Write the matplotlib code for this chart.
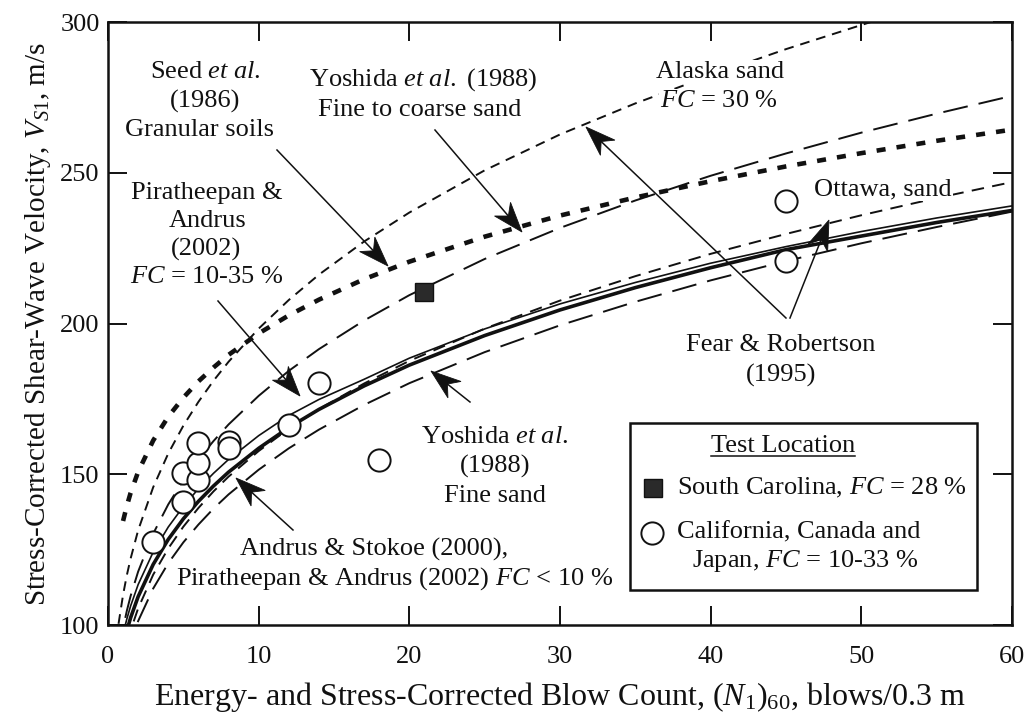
import numpy as np
import matplotlib
matplotlib.use("Agg")
import matplotlib.pyplot as plt
from matplotlib.patches import Rectangle, Polygon
from matplotlib.lines import Line2D

plt.rcParams['font.family'] = ['Liberation Serif', 'DejaVu Serif']
plt.rcParams['mathtext.fontset'] = 'custom'
plt.rcParams['mathtext.rm'] = 'Liberation Serif'
plt.rcParams['mathtext.it'] = 'Liberation Serif:italic'
plt.rcParams['mathtext.bf'] = 'Liberation Serif:bold'
plt.rcParams['lines.scale_dashes'] = False

# ---- relationship curves, (N1)60 vs Vs1 (m/s) ----
n_curve = [0.7, 1, 1.25, 1.5, 2, 3, 4, 5, 6, 7, 8, 10, 12, 14, 17, 20,
           25, 30, 35, 40, 45, 50, 55, 60]
vs_alaska = [100.4, 110.0, 116.5, 122.0, 131.4, 145.7, 156.9, 166.1, 174.0,
             181.0, 187.3, 198.3, 207.8, 216.2, 227.2, 236.8, 250.8, 262.7,
             273.0, 282.3, 291.0, 299.0, 306.9, 313.5]
vs_seed = [np.nan, 134.5, 139.5, 143.8, 150.8, 161.2, 169.1, 175.4, 180.8,
           185.4, 189.6, 196.7, 202.7, 207.9, 214.7, 220.5, 228.8, 235.8,
           241.8, 247.2, 252.1, 256.5, 260.6, 264.3]
vs_yoshida_fc = [90.6, 99.0, 104.7, 109.6, 117.7, 130.3, 140.0, 148.0, 154.9,
                 161.0, 166.5, 176.0, 184.3, 191.5, 201.0, 209.4, 221.4, 231.7,
                 240.8, 249.0, 256.4, 263.3, 269.6, 275.5]
vs_ottawa = [81.1, 88.7, 93.8, 98.2, 105.5, 116.7, 125.4, 132.6, 138.8, 144.3,
             149.2, 157.7, 165.1, 171.6, 180.1, 187.6, 198.3, 207.6, 215.7,
             223.1, 229.7, 235.9, 241.6, 246.9]
vs_pa_fines = [89.5, 97.0, 102.0, 106.3, 113.4, 124.2, 132.5, 139.3, 145.2,
               150.3, 154.9, 162.8, 169.5, 174.8, 181.5, 188.5, 198.2, 206.5,
               213.6, 220.0, 225.5, 230.5, 235.0, 239.0]
vs_andrus_stokoe = [85.8, 93.2, 98.1, 102.4, 109.4, 120.1, 128.4, 135.2, 141.0,
                    146.1, 150.7, 158.6, 165.5, 171.5, 179.3, 186.2, 196.0,
                    204.5, 211.9, 218.5, 224.5, 229.0, 233.5, 237.5]
vs_yoshida_fine = [77.9, 85.2, 90.1, 94.3, 101.3, 112.1, 120.5, 127.4, 133.3,
                   138.6, 143.3, 151.5, 158.6, 164.8, 173.0, 180.2, 190.5,
                   199.4, 207.2, 214.3, 220.7, 226.6, 232.0, 237.1]

# ---- test-site data ----
n_open = [3, 5, 5, 6, 6, 6, 8, 8, 12, 14, 18, 45, 45]
vs_open = [127.6, 140.9, 150.3, 148.1, 153.6, 160.3, 160.8, 158.6, 166.3,
           180.2, 154.7, 240.6, 220.7]
n_sc = [21]
vs_sc = [210.4]

x_ticks = [0, 10, 20, 30, 40, 50, 60]
y_ticks = [100, 150, 200, 250, 300]

FS = 19
INK = '#111111'

fig = plt.figure(figsize=(10.30, 7.24), dpi=100)
ax = fig.add_axes([0.10485, 0.13674, 0.87767, 0.83287])
ax.set_xlim(0, 60)
ax.set_ylim(100, 300)

ax.plot(n_curve, vs_alaska, color=INK, lw=1.4, dashes=(7, 5))
ax.plot(n_curve, vs_seed, color=INK, lw=3.3, dashes=(6.5, 8))
ax.plot(n_curve, vs_yoshida_fc, color=INK, lw=1.4, dashes=(18, 8))
ax.plot(n_curve, vs_ottawa, color=INK, lw=1.4, dashes=(9, 6))
ax.plot(n_curve, vs_yoshida_fine, color=INK, lw=1.4, dashes=(18, 8))
ax.plot(n_curve, vs_pa_fines, color=INK, lw=1.2)
ax.plot(n_curve, vs_andrus_stokoe, color=INK, lw=2.6)

ax.plot(n_open, vs_open, ls='none', marker='o', ms=16, mfc='white',
        mec=INK, mew=1.4, zorder=5)
ax.plot(n_sc, vs_sc, ls='none', marker='s', ms=12.5, mfc='#2a2a2a',
        mec=INK, mew=1.0, zorder=5)

ax.set_xticks(x_ticks)
ax.set_yticks(y_ticks)
ax.tick_params(direction='in', length=14, width=1.4, top=True, right=True,
               labelsize=FS, colors=INK)
ax.tick_params(axis='x', pad=15)
ax.tick_params(axis='y', pad=6)
for s in ax.spines.values():
    s.set_linewidth(1.8)
    s.set_color(INK)

ax.set_xlabel(r"Energy- and Stress-Corrected Blow Count, $(N_{\mathit{1}})_{\mathit{60}}$, blows/0.3 m",
              fontsize=23, labelpad=9, color=INK)
ax.set_ylabel(r"Stress-Corrected Shear-Wave Velocity, $V_{\mathit{S1}}$, m/s",
              fontsize=21, labelpad=5, color=INK)


# ---- annotations ----
def px(xp, yp):
    """pixel position in the figure -> data coordinates"""
    return ((xp - 108) / 15.067, 300 - (yp - 22) / 3.015)


txt = dict(fontsize=FS, ha='center', va='center', color=INK)
masked = dict(txt, bbox=dict(fc='white', ec='none', pad=1.0), zorder=4)

ax.text(*px(205, 72), r"Seed $\mathit{et\ al.}$", **txt)
ax.text(*px(205, 101), "(1986)", **txt)
ax.text(*px(200, 130), "Granular soils", **txt)

ax.text(*px(423, 80), r"Yoshida $\mathit{et\ al.}$ (1988)", **txt)
ax.text(*px(420, 110), "Fine to coarse sand", **txt)

ax.text(*px(720, 72), "Alaska sand", **masked)
ax.text(*px(719, 101), r"$\mathit{FC}$ = 30 %", **masked)

ax.text(*px(207, 193), "Piratheepan &", **txt)
ax.text(*px(208, 221), "Andrus", **txt)
ax.text(*px(206, 249), "(2002)", **txt)
ax.text(*px(207, 277), r"$\mathit{FC}$ = 10-35 %", **txt)

ax.text(*px(883, 189), "Ottawa, sand", **masked)

ax.text(*px(781, 345), "Fear & Robertson", **txt)
ax.text(*px(781, 375), "(1995)", **txt)

ax.text(*px(495, 437), r"Yoshida $\mathit{et\ al.}$", **txt)
ax.text(*px(495, 466), "(1988)", **txt)
ax.text(*px(495, 496), "Fine sand", **txt)

ax.text(*px(374, 549), "Andrus & Stokoe (2000),", **txt)
ax.text(*px(395, 579), r"Piratheepan & Andrus (2002) $\mathit{FC}$ < 10 %", **txt)


def pointer(start, tip, length=30.0, half_w=10.5, notch=9.0):
    """leader line with a notched solid head; start/tip in figure pixels"""
    s = np.array(start, float)
    t = np.array(tip, float)
    d = (t - s) / np.hypot(*(t - s))
    n = np.array([-d[1], d[0]])
    base = t - length * d
    back = t - (length - notch) * d
    ax.add_line(Line2D(*zip(px(*s), px(*back)), color=INK, lw=1.1, zorder=6))
    head = [px(*t), px(*(base + half_w * n)), px(*back), px(*(base - half_w * n))]
    ax.add_patch(Polygon(head, closed=True, fc=INK, ec=INK, lw=0.6, zorder=6))


pointer((277, 150), (388, 266))   # Seed et al.
pointer((435, 130), (522, 232))   # Yoshida fine to coarse
pointer((218, 301), (300, 396))   # Piratheepan & Andrus 10-35 %
pointer((293, 530), (236, 478))   # Andrus & Stokoe
pointer((470, 402), (431, 371))   # Yoshida fine sand
pointer((786, 318), (586, 127))   # Fear & Robertson, Alaska
pointer((790, 318), (829, 220))   # Fear & Robertson, Ottawa

# ---- key ----
box_x0, box_x1 = (630 - 108) / 904, (977 - 108) / 904
box_y0, box_y1 = (625 - 590) / 603, (625 - 423) / 603
ax.add_patch(Rectangle((box_x0, box_y0), box_x1 - box_x0, box_y1 - box_y0,
                       transform=ax.transAxes, fill=True, fc='white',
                       ec=INK, lw=1.8, zorder=7))
title = ax.text(*px(783, 446), "Test Location", zorder=8, **txt)
ax.plot(*px(653, 488), ls='none', marker='s', ms=12.5, mfc='#2a2a2a',
        mec=INK, mew=1.0, zorder=8, clip_on=False)
ax.text(*px(677, 488), r"South Carolina, $\mathit{FC}$ = 28 %", fontsize=FS,
        ha='left', va='center', color=INK, zorder=8)
ax.plot(*px(652, 533), ls='none', marker='o', ms=16, mfc='white',
        mec=INK, mew=1.4, zorder=8, clip_on=False)
ax.text(*px(677, 532), "California, Canada and", fontsize=FS, ha='left',
        va='center', color=INK, zorder=8)
ax.text(*px(692, 561), r"Japan, $\mathit{FC}$ = 10-33 %", fontsize=FS,
        ha='left', va='center', color=INK, zorder=8)

fig.canvas.draw()
bb = title.get_window_extent()
fig.add_artist(Line2D([bb.x0, bb.x1], [bb.y0 + 1, bb.y0 + 1],
                      transform=None, color=INK, lw=1.1, zorder=9))

fig.savefig("out.png", dpi=100, facecolor='white')
